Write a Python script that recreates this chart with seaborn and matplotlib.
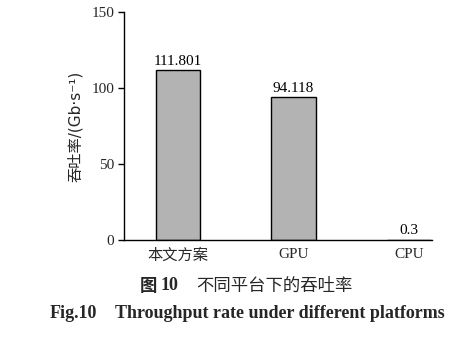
import matplotlib
matplotlib.use("Agg")
import matplotlib.pyplot as plt
import seaborn as sns
import pandas as pd

categories = ["本文方案", "GPU", "CPU"]
values = [111.801, 94.118, 0.3]
labels = ["111.801", "94.118", "0.3"]
yticks = [0, 50, 100, 150]

sns.set_theme(style="white")
plt.rcParams['font.family'] = ['Liberation Serif', 'Noto Sans CJK SC', 'DejaVu Sans']

df = pd.DataFrame({"cat": categories, "val": values})

fig = plt.figure(figsize=(4.7, 3.37), dpi=100)
ax = fig.add_axes([0.2638, 0.2878, 0.919 - 0.2638, 0.9644 - 0.2878])
sns.barplot(data=df, x="cat", y="val", ax=ax, color="#b3b3b3", saturation=1,
            edgecolor="black", linewidth=1.0, width=0.385)
ax.set_xlim(-0.467, 2.2)
ax.set_ylim(0, 150)
ax.set_yticks(yticks)
ax.set_yticklabels([str(t) for t in yticks], fontsize=11)
for s in ["top", "right"]:
    ax.spines[s].set_visible(False)
for s in ["left", "bottom"]:
    ax.spines[s].set_color("black")
    ax.spines[s].set_linewidth(1.0)
ax.tick_params(axis="y", direction="out", length=4, width=1, color="black", left=True, pad=3)
ax.tick_params(axis="x", length=0, pad=6)
for t in ax.get_xticklabels():
    t.set_fontsize(11)
    t.set_family(['Liberation Serif', 'Noto Sans CJK SC'])
ax.set_xlabel("")
ax.set_ylabel("吞吐率/(Gb·s⁻¹)", fontsize=11, family=['DejaVu Sans', 'Noto Sans CJK SC'], labelpad=6)
for i, (v, l) in enumerate(zip(values, labels)):
    ax.text(i, v + 1.5, l, ha="center", va="bottom", fontsize=11, color="black")

fig.text(140 / 470, 1 - 286 / 337, "图", ha="left", va="center", fontsize=12.5,
         family=['Noto Sans CJK SC'], fontweight="bold")
fig.text(161 / 470, 1 - 285 / 337, "10", ha="left", va="center", fontsize=13,
         family=['Liberation Serif'], fontweight="bold")
fig.text(196 / 470, 1 - 286 / 337, "不同平台下的吞吐率", ha="left", va="center", fontsize=12.5,
         family=['Noto Sans CJK SC'], fontweight="normal")
fig.text(50 / 470, 1 - 313 / 337, "Fig.10", ha="left", va="center",
         fontsize=13, family=['Liberation Serif'], fontweight="bold")
fig.text(445 / 470, 1 - 313 / 337, "Throughput rate under different platforms", ha="right", va="center",
         fontsize=12.95, family=['Liberation Serif'], fontweight="bold")

fig.savefig("out.png", dpi=100)
